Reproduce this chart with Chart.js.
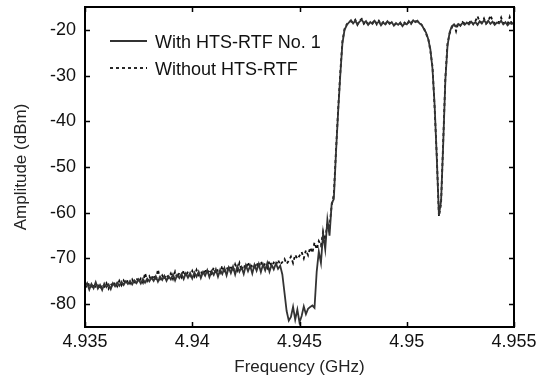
<!DOCTYPE html>
<html><head><meta charset="utf-8">
<script src="https://cdn.jsdelivr.net/npm/chart.js@4.4.1/dist/chart.umd.min.js"></script>
<style>html,body{margin:0;padding:0;background:#fff;}#wrap{width:536px;height:383px;}</style>
</head><body><div id="wrap"><canvas id="c" width="536" height="383"></canvas></div>
<script>
// Frequency grid (GHz)
const freqStart = 4.935;
const freqStep = 0.0001;

// Amplitude (dBm), with HTS-RTF No. 1 (solid)
const withFilter = [
-76.2,-75.4,-76.8,-75.6,-76.5,-75.2,-76.6,-75.8,-76.9,-75.5,
-76.3,-75.7,-76.7,-75.4,-76.1,-75.3,-76.0,-75.1,-75.8,-75.0,
-75.6,-74.9,-75.7,-74.8,-75.4,-74.6,-75.5,-74.5,-75.3,-74.4,
-75.0,-74.2,-74.9,-73.9,-75.1,-74.0,-74.7,-73.8,-74.9,-73.9,
-74.6,-73.5,-74.8,-73.6,-74.3,-73.4,-74.5,-73.3,-74.2,-73.2,
-74.4,-73.1,-74.0,-72.9,-74.3,-73.0,-73.8,-72.6,-74.1,-72.8,
-73.6,-72.4,-74.0,-72.5,-73.4,-72.1,-73.7,-72.0,-73.2,-71.8,
-73.5,-71.7,-72.9,-71.9,-73.4,-71.5,-72.8,-71.6,-73.3,-71.4,
-72.7,-71.2,-73.0,-71.3,-72.6,-71.0,-72.9,-71.4,-72.4,-71.1,
-72.3,-71.6,
-73.5,-77.5,-81.5,-83.6,-82.8,-80.6,-83.4,-81.2,-84.0,-82.6,-80.5,-82.2,-81.0,-80.6,-80.3,-80.8,
-73.0,-68.5,-71.0,-64.5,-68.0,-61.5,-65.0,-58.0,-57.0,-47.0,-38.0,-30.0,-23.0,-20.0,-19.0,
-18.4,-17.9,-18.6,-18.0,-18.8,-18.2,-17.8,-18.5,-18.1,-18.9,
-18.3,-18.7,-18.0,-18.6,-18.2,-19.0,-18.4,-18.8,-18.1,-18.7,
-18.3,-19.1,-18.5,-18.9,-18.4,-19.2,-18.6,-18.8,-18.2,-18.5,
-17.9,-18.3,-18.0,-18.6,-18.9,
-19.8,-20.6,-22.0,-24.2,-28.5,-36.5,-48.0,-60.5,-57.5,-45.0,-31.0,-23.5,-20.5,-19.2,
-18.8,-19.3,-18.7,-19.0,-18.5,-18.9,-18.4,-18.8,-18.2,-18.7,
-18.3,-18.9,-18.1,-18.6,-17.9,-18.5,-18.0,-18.7,-18.2,-18.9,
-18.4,-18.6,-18.0,-18.8,-18.3,-19.0,-18.5,-18.7,-18.4
];

// Amplitude (dBm), without HTS-RTF (dashed)
const withoutFilter = [
-75.8,-76.5,-75.3,-76.7,-75.5,-76.4,-75.9,-76.8,-75.6,-76.2,
-75.4,-76.6,-75.5,-76.3,-75.2,-76.1,-74.9,-75.9,-74.8,-75.6,
-74.7,-75.5,-74.6,-75.6,-74.3,-75.2,-74.4,-75.3,-73.2,-74.9,
-73.9,-74.8,-73.6,-74.9,-72.4,-74.5,-73.7,-74.6,-73.5,-74.2,
-73.3,-74.5,-72.9,-74.3,-73.1,-74.1,-72.6,-73.9,-72.9,-73.8,
-72.7,-73.9,-72.5,-73.6,-72.8,-73.7,-72.3,-73.5,-72.4,-73.3,
-72.0,-73.4,-72.2,-73.1,-71.6,-73.2,-71.9,-72.8,-71.5,-72.9,
-71.3,-72.6,-71.0,-72.7,-71.4,-72.3,-70.8,-72.1,-71.2,-72.4,
-70.9,-72.0,-70.6,-71.8,-71.1,-72.1,-70.5,-71.7,-70.9,-71.5,
-70.3,-71.4,-70.8,-70.1,-71.2,
-70.5,-69.6,-71.0,-69.2,-70.1,-69.4,-68.6,-70.0,-68.2,-69.3,-67.6,-68.8,-66.5,-68.0,-66.2,-67.2,-64.2,-66.0,-62.2,-63.0,-58.4,
-56.0,-46.5,-37.5,-29.5,-22.5,-19.8,-18.8,
-18.2,-18.1,-18.4,-17.8,-18.9,-18.0,-17.6,-18.7,-18.2,-18.7,
-18.5,-18.5,-17.9,-18.8,-18.0,-18.8,-18.3,-18.9,-18.0,-18.5,
-18.5,-18.9,-18.7,-18.7,-18.6,-19.0,-18.4,-18.9,-18.1,-18.7,
-18.0,-18.1,-18.2,-18.4,-19.0,
-19.6,-20.9,-21.8,-24.6,-28.0,-37.2,-47.5,-60.8,-58.0,-44.2,-30.5,-23.0,-20.8,-19.5,
-18.6,-20.3,-18.5,-19.1,-18.3,-18.6,-18.6,-18.5,-18.0,-18.8,
-18.1,-17.0,-18.3,-18.4,-17.5,-18.7,-18.2,-16.8,-18.0,-18.6,
-18.1,-18.4,-17.3,-18.6,-18.5,-18.8,-17.2,-18.9,-18.2
];

const xTicks = [4.935, 4.94, 4.945, 4.95, 4.955];
const yTicks = [-80, -70, -60, -50, -40, -30, -20];
const seriesNames = ['With HTS-RTF No. 1', 'Without HTS-RTF'];

const frequencies = withFilter.map((_, i) => +(freqStart + i * freqStep).toFixed(4));
const toPoints = arr => arr.map((v, i) => ({x: frequencies[i], y: v}));

const FONT = 'Arial, "Liberation Sans", sans-serif';

const framePlugin = {
  id: 'frame',
  afterDraw(chart) {
    const {ctx, chartArea: {left, right, top, bottom}, scales: {x, y}} = chart;
    ctx.save();
    ctx.strokeStyle = '#000';
    ctx.lineWidth = 1.5;
    ctx.beginPath();
    xTicks.forEach(v => {
      const px = Math.round(x.getPixelForValue(v)) + 0.5;
      ctx.moveTo(px, bottom); ctx.lineTo(px, bottom - 5);
      ctx.moveTo(px, top); ctx.lineTo(px, top + 5);
    });
    yTicks.forEach(v => {
      const py = Math.round(y.getPixelForValue(v)) + 0.5;
      ctx.moveTo(left, py); ctx.lineTo(left + 5, py);
      ctx.moveTo(right, py); ctx.lineTo(right - 5, py);
    });
    ctx.stroke();
    ctx.lineWidth = 2;
    ctx.strokeRect(left, top, right - left, bottom - top);
    // legend
    const ds = chart.data.datasets;
    ctx.font = '18px ' + FONT;
    ctx.fillStyle = '#111';
    ctx.textBaseline = 'middle';
    ds.forEach((d, i) => {
      const ly = top + 34 + i * 27;
      ctx.strokeStyle = d.borderColor;
      ctx.lineWidth = d.borderWidth;
      ctx.setLineDash(d.borderDash || []);
      ctx.beginPath();
      ctx.moveTo(left + 25, ly); ctx.lineTo(left + 62, ly);
      ctx.stroke();
      ctx.setLineDash([]);
      ctx.fillText(d.label, left + 70, ly + 2);
    });
    ctx.restore();
  }
};

new Chart(document.getElementById('c'), {
  type: 'line',
  data: {
    datasets: [
      {label: seriesNames[0], data: toPoints(withFilter), borderColor: '#333', borderWidth: 1.8, pointRadius: 0, tension: 0, fill: false},
      {label: seriesNames[1], data: toPoints(withoutFilter), borderColor: '#111', borderWidth: 1.8, borderDash: [3, 3], pointRadius: 0, tension: 0, fill: false}
    ]
  },
  options: {
    responsive: false,
    animation: false,
    devicePixelRatio: 1,
    layout: {padding: {left: 0, right: 22, top: 7, bottom: 0}},
    plugins: {legend: {display: false}, tooltip: {enabled: false}},
    scales: {
      x: {
        type: 'linear', min: 4.935, max: 4.955,
        afterBuildTicks: s => { s.ticks = xTicks.map(v => ({value: v})); },
        afterFit: s => { s.height = 56; s.paddingLeft = 0; s.paddingRight = 0; },
        grid: {display: false, drawTicks: false},
        border: {display: false},
        ticks: {padding: 4, color: '#111', font: {family: FONT, size: 18}, callback: v => String(+v.toFixed(3)), maxRotation: 0, autoSkip: false},
        title: {display: true, text: 'Frequency (GHz)', color: '#222', font: {family: FONT, size: 17}, padding: {top: 5, bottom: 5}}
      },
      y: {
        type: 'linear', min: -85, max: -15,
        afterBuildTicks: s => { s.ticks = yTicks.map(v => ({value: v})); },
        afterFit: s => { s.width = 85; s.paddingTop = 0; s.paddingBottom = 0; },
        grid: {display: false, drawTicks: false},
        border: {display: false},
        ticks: {padding: 9, color: '#111', font: {family: FONT, size: 18}},
        title: {display: true, text: 'Amplitude (dBm)', color: '#222', font: {family: FONT, size: 17}, padding: {top: 11, bottom: 11}}
      }
    }
  },
  plugins: [framePlugin]
});
</script></body></html>
